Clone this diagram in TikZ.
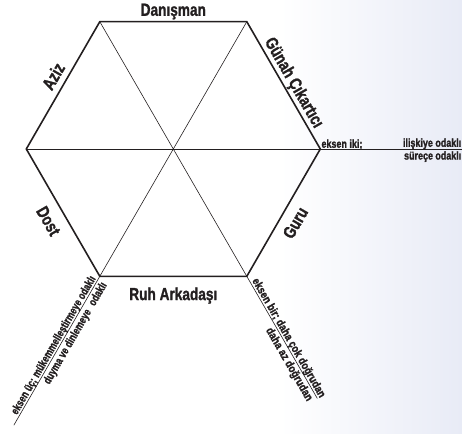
\documentclass[tikz,border=0pt]{standalone}
\usepackage{fontspec}
\setmainfont{Liberation Sans}[BoldFeatures={FakeBold=1.5}]
\usetikzlibrary{calc}
\definecolor{InkGray}{RGB}{35,31,32}
\definecolor{PaleTint}{RGB}{232,235,246}
% condensed look for all labels
\newcommand{\narrow}[2][0.78]{\scalebox{#1}[1]{#2}}

\tikzset{
  hexedge/.style={draw=InkGray, line width=1.6pt, line join=miter},
  axisline/.style={draw=InkGray, line width=0.6pt},
  biglabel/.style={font=\bfseries\fontsize{17.5}{20}\selectfont, text=InkGray,
                   inner sep=0pt, text height=12.6pt, text depth=0pt},
  axislabel/.style={font=\bfseries\fontsize{11.5}{13}\selectfont, text=InkGray,
                    inner sep=2pt, text height=8.4pt, text depth=0pt}
}

\begin{document}
\begin{tikzpicture}[x=1pt, y=1pt]
  \useasboundingbox (0,0) rectangle (462,433);
  % pale tint on the right
  \shade[left color=white, right color=PaleTint] (280,0) rectangle (462,433);

  % hexagon corners and axis ends
  \coordinate (mid) at (173.3,284);
  \foreach \a in {0,60,...,300}
    \coordinate (v\a) at ($(mid)+(\a:147)$);
  \coordinate (eiki) at (462,284);
  \coordinate (ebir) at ($(mid)+(300:288)$);
  \coordinate (euc) at ($(mid)+(240:319)$);

  % axes
  \draw[axisline] (v180) -- (eiki);
  \draw[axisline] (v120) -- (ebir);
  \draw[axisline] (v60) -- (euc);
  \draw[hexedge] (v0) -- (v60) -- (v120) -- (v180) -- (v240) -- (v300) -- cycle;

  % role names on the sides
  \path (v120) -- node[biglabel, above=5.7pt] (danisman) {\narrow{Danışman}} (v60);
  \path (v60) -- node[biglabel, sloped, pos=0.52, above=5pt] (gunah) {\narrow{Günah Çıkartıcı}} (v0);
  \path (v300) -- node[biglabel, sloped, pos=0.48, below=8.5pt] (guru) {\narrow{Guru}} (v0);
  \path (v240) -- node[biglabel, below=11pt] (ruh) {\narrow{Ruh Arkadaşı}} (v300);
  \path (v180) -- node[biglabel, sloped, pos=0.5, below=10pt] (dost) {\narrow{Dost}} (v240);
  \path (v180) -- node[biglabel, sloped, pos=0.52, above=6.5pt] (aziz) {\narrow{Aziz}} (v120);

  % axis texts
  \node[axislabel, anchor=south west, inner sep=1pt] (ekseniki) at (v0) {\narrow{eksen iki;}};
  \node[axislabel, anchor=south east, inner xsep=0.5pt] (iliskiye) at (eiki) {\narrow{ilişkiye odaklı}};
  \node[axislabel, anchor=north east, inner xsep=0.5pt] (surece) at (eiki) {\narrow{süreçe\hspace{3pt}odaklı}};
  \path (v300) -- node[axislabel, sloped, pos=0.03, anchor=south west] (eksenbir) {\narrow[0.83]{eksen bir; daha çok doğrudan}}
                  node[axislabel, sloped, pos=1, anchor=north east] (dahaaz) {\narrow[0.84]{daha az doğrudan}} (ebir);
  \path (euc) -- node[axislabel, sloped, pos=0.99, anchor=south east] (eksenuc) {\narrow[0.75]{eksen üç;\hspace{4pt}mükemmelleştirmeye odaklı}}
                 node[axislabel, sloped, pos=0.99, anchor=north east] (duyma) {\narrow[0.75]{duyma ve dinlemeye\hspace{8pt}odaklı}} (v240);
\end{tikzpicture}
\end{document}
